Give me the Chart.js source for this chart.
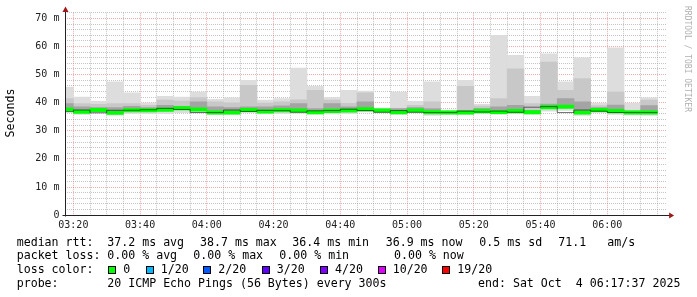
<!DOCTYPE html>
<html>
<head>
<meta charset="utf-8">
<script src="https://cdn.jsdelivr.net/npm/chart.js@4.4.1/dist/chart.umd.min.js"></script>
<style>
  html, body { margin: 0; padding: 0; background: #fff; }
  #wrap { position: relative; width: 697px; height: 297px; overflow: hidden; background: #fff; }
  #chart { position: absolute; left: 0; top: 0; }
  .leg { position: absolute; font-family: "DejaVu Sans Mono", monospace; font-size: 11.6px; line-height: 14px; color: #000; white-space: pre; }
  .box { position: absolute; width: 6px; height: 6px; border: 1px solid #000; }
</style>
</head>
<body>
<div id="wrap">
  <canvas id="chart" width="697" height="297"></canvas>
  <div id="legend"></div>
</div>
<script>
// 5 minute steps, end time of each step
const stepEnd = ['03:20','03:25','03:30','03:35','03:40','03:45','03:50','03:55','04:00',
  '04:05','04:10','04:15','04:20','04:25','04:30','04:35','04:40','04:45','04:50','04:55',
  '05:00','05:05','05:10','05:15','05:20','05:25','05:30','05:35','05:40','05:45','05:50',
  '05:55','06:00','06:05','06:10','06:15'];

// round trip times in ms (smoke = spread of the 20 pings)
const rttMax  = [45.6,42.0,40.5,47.4,43.5,40.0,42.3,42.0,43.8,41.2,41.7,48.0,40.9,41.5,52.3,45.8,41.8,44.4,
  44.1,38.1,43.8,40.5,47.4,37.2,48.0,39.4,64.0,56.9,42.3,57.4,47.4,56.0,39.9,59.5,39.9,41.7];
const rttHigh = [41.5,39.7,39.4,39.7,39.7,39.1,40.9,40.6,41.8,40.3,40.0,46.2,39.9,40.3,41.0,44.4,40.9,39.8,
  43.5,37.9,38.0,39.1,40.3,37.0,45.8,38.8,41.5,52.1,39.7,54.5,44.4,48.6,39.0,43.8,37.2,40.9];
const rttMid  = [39.7,38.5,38.3,38.3,38.7,38.3,39.1,38.7,40.3,38.5,38.3,38.5,38.5,38.9,39.7,37.9,39.7,38.5,
  40.3,37.6,37.9,38.3,37.9,36.9,37.3,38.0,38.5,39.1,37.3,39.5,41.5,40.3,38.3,39.2,37.0,39.0];
const rttMed  = [37.6,36.8,37.4,36.4,37.3,37.3,37.5,38.0,37.6,36.5,36.5,37.4,36.9,37.3,37.2,36.6,37.1,37.2,
  37.7,37.2,36.6,37.2,36.6,36.5,36.5,37.0,36.7,37.0,36.6,38.4,38.6,36.5,37.4,37.0,36.5,36.5];
const rttMin  = [36.7,35.8,36.4,35.6,36.1,36.1,36.1,36.5,36.4,35.8,35.8,36.5,36.1,36.1,36.2,35.9,36.0,36.1,
  36.7,36.5,35.8,36.4,35.5,35.9,35.8,36.2,35.8,36.2,35.9,37.0,37.3,35.5,36.5,35.8,35.6,35.5];

const xTickLabels = ['03:20','03:40','04:00','04:20','04:40','05:00','05:20','05:40','06:00'];
const yTickValues = [0,10,20,30,40,50,60,70];
const yTickLabels = ['0','10 m','20 m','30 m','40 m','50 m','60 m','70 m'];

const lossLabels = ['0','1/20','2/20','3/20','4/20','10/20','19/20'];
const lossColors = ['#00ff00','#00b8ff','#0059ff','#5e00ff','#7e00ff','#dd00ff','#ff0000'];

const toMin = s => { const p = s.split(':').map(Number); return p[0] * 60 + p[1]; };
const xEnd = stepEnd.map(toMin);
const tStart = toMin('03:17') + 37 / 60;
const tStop = toMin('06:17') + 37 / 60;

function floating(lo, hi) {
  return xEnd.map((t, i) => ({ x: t - 2.5, y: [lo[i], hi[i]] }));
}
const greenBand = xEnd.map((t, i) => ({ x: t - 2.5, y: [rttMed[i] - 0.6, rttMed[i] + 0.6] }));
const medLine = xEnd.map((t, i) => ({ x: t - 5, y: rttMed[i] }));
medLine.push({ x: xEnd[xEnd.length - 1], y: rttMed[rttMed.length - 1] });

const barOpts = { grouped: false, categoryPercentage: 1, barPercentage: 1, borderWidth: 0 };

// axes, arrows and side texts
const decor = {
  id: 'decor',
  afterDraw(chart) {
    const ctx = chart.ctx;
    const a = chart.chartArea;
    const ax = Math.round(a.left) + 0.5;
    const ay = Math.round(a.bottom) + 0.5;
    ctx.save();
    ctx.strokeStyle = '#222';
    ctx.lineWidth = 1;
    ctx.beginPath();
    ctx.moveTo(ax, ay + 1); ctx.lineTo(ax, a.top - 4);
    ctx.moveTo(ax - 3, ay); ctx.lineTo(a.right + 4, ay);
    ctx.stroke();
    ctx.fillStyle = '#a01818';
    ctx.beginPath();
    ctx.moveTo(ax, 6.5); ctx.lineTo(ax - 3, 12); ctx.lineTo(ax + 3, 12); ctx.closePath();
    ctx.fill();
    ctx.beginPath();
    ctx.moveTo(a.right + 8, ay); ctx.lineTo(a.right + 3, ay - 3); ctx.lineTo(a.right + 3, ay + 3); ctx.closePath();
    ctx.fill();

    ctx.fillStyle = '#000';
    ctx.font = '11.6px "DejaVu Sans Mono"';
    ctx.textAlign = 'center';
    ctx.textBaseline = 'middle';
    ctx.translate(10.5, 113);
    ctx.rotate(-Math.PI / 2);
    ctx.fillText('Seconds', 0, 0);
    ctx.restore();

    ctx.save();
    ctx.fillStyle = '#b0b0b0';
    ctx.font = '8px "DejaVu Sans Mono"';
    ctx.textAlign = 'center';
    ctx.textBaseline = 'middle';
    ctx.translate(687.5, 59);
    ctx.rotate(Math.PI / 2);
    ctx.fillText('RRDTOOL / TOBI OETIKER', 0, 0);
    ctx.restore();
  }
};

const gridColor = (major) => (c) => (c.tick && c.tick.value % major === 0) ? 'rgba(225,70,70,0.45)' : 'rgba(140,140,140,0.5)';

new Chart(document.getElementById('chart'), {
  type: 'bar',
  data: {
    datasets: [
      { type: 'line', data: medLine, stepped: 'after', borderColor: 'rgba(20,20,20,0.6)', borderWidth: 1, pointRadius: 0, fill: false },
      { data: greenBand, backgroundColor: '#00ff00', ...barOpts },
      { data: floating(rttMed, rttMid), backgroundColor: '#a4a4a4', ...barOpts },
      { data: floating(rttMed, rttHigh), backgroundColor: '#c8c8c8', ...barOpts },
      { data: floating(rttMin, rttMax), backgroundColor: '#dddddd', ...barOpts }
    ]
  },
  options: {
    responsive: false,
    animation: false,
    events: [],
    layout: { padding: { top: 12.8, right: 30.9, bottom: 0, left: 0 } },
    plugins: { legend: { display: false }, tooltip: { enabled: false } },
    scales: {
      x: {
        type: 'linear',
        offset: false,
        min: tStart,
        max: tStop,
        afterBuildTicks: (scale) => {
          const t = [];
          for (let m = 200; m < tStop; m += 5) t.push({ value: m });
          scale.ticks = t;
        },
        afterFit: (scale) => { scale.height = 81.9; },
        border: { display: false, dash: [1, 1] },
        grid: { offset: false, drawTicks: false, color: gridColor(20) },
        ticks: {
          autoSkip: false, maxRotation: 0, minRotation: 0, padding: 4,
          color: '#222',
          font: { family: 'DejaVu Sans Mono', size: 10 },
          callback: (v) => {
            const h = Math.floor(v / 60), m = v % 60;
            const s = String(h).padStart(2, '0') + ':' + String(m).padStart(2, '0');
            return xTickLabels.includes(s) ? s : '';
          }
        }
      },
      y: {
        min: 0,
        max: 72,
        afterBuildTicks: (scale) => {
          const t = [];
          for (let v = 0; v <= 72; v += 2) t.push({ value: v });
          scale.ticks = t;
        },
        afterFit: (scale) => { scale.width = 65.4; },
        border: { display: false, dash: [1, 1] },
        grid: { drawTicks: false, color: gridColor(10) },
        ticks: {
          autoSkip: false, padding: 6, color: '#222',
          font: { family: 'DejaVu Sans Mono', size: 10 },
          callback: (v) => { const i = yTickValues.indexOf(v); return i >= 0 ? yTickLabels[i] : ''; }
        }
      }
    }
  },
  plugins: [decor]
});

// text legend under the graph
const legendRows = [
  { y: 234.5, items: [[16.7, 'median rtt:'], [107.3, '37.2 ms avg'], [200, '38.7 ms max'], [292.3, '36.4 ms min'],
    [385.7, '36.9 ms now'], [479.3, '0.5 ms sd'], [558.3, '71.1'], [607.3, 'am/s']] },
  { y: 248.2, items: [[16.7, 'packet loss:'], [107.3, '0.00 % avg'], [193.3, '0.00 % max'], [279.3, '0.00 % min'], [394, '0.00 % now']] },
  { y: 262.0, items: [[16.7, 'loss color:']] },
  { y: 275.8, items: [[16.7, 'probe:'], [107.3, '20 ICMP Echo Pings (56 Bytes) every 300s'], [478, 'end: Sat Oct  4 06:17:37 2025']] }
];
const lossBoxX = [108.3, 145.7, 203.3, 261.7, 320, 377.7, 442.3];
const legend = document.getElementById('legend');
legendRows.forEach(row => {
  row.items.forEach(([x, txt]) => {
    const d = document.createElement('div');
    d.className = 'leg';
    d.style.left = x + 'px';
    d.style.top = row.y + 'px';
    d.textContent = txt;
    legend.appendChild(d);
  });
});
lossLabels.forEach((lab, i) => {
  const b = document.createElement('div');
  b.className = 'box';
  b.style.left = lossBoxX[i] + 'px';
  b.style.top = '265.5px';
  b.style.background = lossColors[i];
  legend.appendChild(b);
  const d = document.createElement('div');
  d.className = 'leg';
  d.style.left = (lossBoxX[i] + 15) + 'px';
  d.style.top = '262px';
  d.textContent = lab;
  legend.appendChild(d);
});
</script>
</body>
</html>
